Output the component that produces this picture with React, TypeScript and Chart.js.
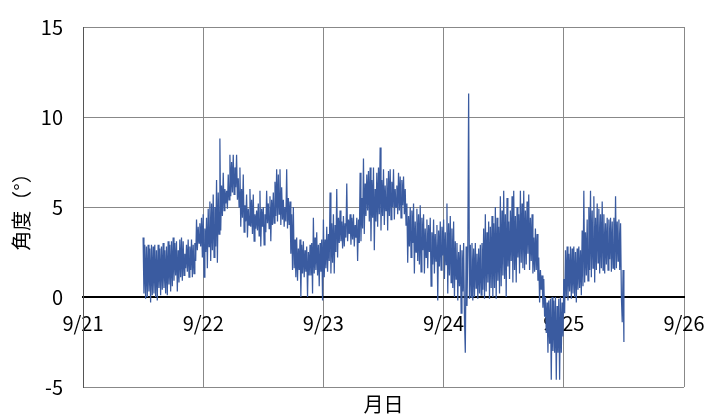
import { useEffect, useRef } from "react";
import { Chart, registerables } from "chart.js";

Chart.register(...registerables);

// Day tick labels (days counted from 9/21 00:00)
const dateLabels = ["9/21", "9/22", "9/23", "9/24", "9/25", "9/26"];
const yTickValues = [-5, 0, 5, 10, 15];

// Sampling: first sample 9/21 12:00, one sample every 10 minutes
const startDay = 0.5;
const sampleMinutes = 10;

// Angle (°), one row = 2 hours (12 samples)
const angleValues = [
  3.3, 0.2, 2.9, -0.1, 2.8, 0.0, 2.9, 0.3, 2.7, -0.3, 2.9, 0.1,
  2.8, 0.2, 2.9, 0.0, 2.6, -0.2, 2.9, 0.5, 2.7, 0.1, 2.8, 0.4,
  3.0, 0.5, 2.6, 0.2, 2.8, 0.1, 3.1, 0.7, 2.9, 0.3, 3.1, 0.6,
  3.3, 0.9, 3.0, 1.2, 3.1, 0.3, 2.6, 0.8, 3.2, 1.1, 3.3, 0.9,
  3.1, 1.2, 2.4, 1.6, 2.9, 1.4, 3.2, 1.1, 2.8, 1.5, 3.2, 1.1,
  2.9, 1.3, 3.0, 2.0, 4.3, 2.6, 3.9, 3.0, 4.1, 2.8, 4.4, 2.2,
  4.6, 1.1, 3.8, 2.5, 4.4, 1.6, 4.9, 2.8, 5.3, 2.0, 5.2, 2.6,
  5.7, 2.2, 5.0, 2.8, 6.5, 1.9, 5.8, 3.5, 8.8, 3.7, 6.2, 4.5,
  6.9, 4.8, 6.0, 5.2, 5.9, 4.9, 6.8, 5.4, 7.9, 5.6, 7.5, 5.8,
  7.9, 5.7, 7.2, 6.1, 7.9, 5.4, 6.6, 5.0, 7.2, 3.9, 6.0, 4.4,
  6.8, 3.6, 5.1, 4.2, 5.7, 3.3, 4.9, 4.0, 6.0, 3.9, 5.4, 3.5,
  5.7, 3.1, 4.6, 3.8, 4.8, 3.7, 5.2, 3.4, 5.9, 2.8, 4.9, 3.9,
  5.0, 2.9, 4.6, 3.6, 5.9, 4.1, 5.2, 3.8, 5.6, 3.1, 5.4, 4.0,
  5.8, 4.1, 6.4, 4.5, 7.1, 4.2, 6.8, 4.6, 7.1, 4.0, 6.1, 4.3,
  5.4, 3.9, 5.0, 4.2, 7.1, 3.8, 5.5, 4.0, 5.3, 2.4, 4.6, 1.5,
  5.0, 1.6, 3.2, 1.1, 3.3, 0.9, 2.7, 1.5, 3.2, 0.0, 2.9, 1.3,
  3.1, 1.1, 2.6, 1.4, 2.8, 0.0, 2.5, 1.2, 2.9, 1.2, 3.0, 0.2,
  4.4, 1.3, 3.3, 1.5, 3.6, 1.2, 2.9, 0.6, 3.0, 1.4, 3.2, -0.2,
  4.3, 1.1, 3.2, 1.6, 3.9, 1.4, 3.5, 2.0, 5.8, 1.3, 4.1, 1.9,
  4.6, 1.3, 4.0, 2.5, 6.0, 2.2, 4.4, 3.0, 4.8, 3.1, 4.2, 2.7,
  4.5, 2.8, 4.1, 3.3, 6.3, 3.1, 4.3, 3.5, 4.6, 2.9, 4.4, 3.2,
  4.6, 2.8, 4.0, 3.3, 4.4, 2.0, 4.3, 3.0, 6.9, 3.1, 5.5, 3.8,
  7.7, 3.5, 6.3, 4.5, 6.8, 4.8, 7.0, 4.2, 7.2, 3.1, 6.5, 4.4,
  7.2, 2.6, 6.0, 4.2, 6.9, 3.9, 7.2, 4.6, 8.3, 3.7, 6.5, 4.5,
  7.1, 4.0, 6.2, 4.8, 6.6, 3.7, 7.0, 4.5, 7.1, 4.3, 6.4, 5.0,
  7.1, 4.3, 6.0, 5.0, 6.2, 4.6, 6.9, 4.8, 6.7, 4.4, 6.5, 5.1,
  6.7, 4.6, 6.0, 4.0, 5.2, 1.9, 4.5, 2.8, 5.0, 2.2, 4.8, 3.0,
  5.2, 1.3, 4.2, 2.5, 4.9, 2.0, 4.6, 1.8, 5.1, 1.4, 4.4, 2.6,
  4.6, 1.3, 3.8, 2.2, 4.3, 1.6, 4.0, 2.5, 4.4, 0.6, 3.6, 1.8,
  4.3, 1.3, 3.5, 2.0, 4.0, -0.2, 3.7, 1.7, 4.2, 1.5, 3.9, 2.3,
  4.3, 1.0, 3.6, 1.8, 5.2, 0.2, 4.1, 1.2, 4.5, 0.8, 3.8, 0.5,
  4.2, 0.0, 3.1, 1.0, 3.0, -0.2, 2.5, 0.6, 2.9, -0.9, 2.6, 0.3,
  3.0, -1.2, -3.1, 2.8, -0.5, 2.6, 11.3, -0.1, 2.9, 0.0, 3.0, -0.2,
  2.7, 0.0, 3.0, 0.5, 2.4, -0.1, 2.7, 0.2, 2.9, 0.1, 3.0, 0.4,
  3.8, -0.1, 4.6, 0.3, 3.6, 0.8, 4.2, -0.1, 3.9, 0.5, 4.5, 0.0,
  4.1, 0.5, 5.0, -0.1, 4.4, 0.9, 3.9, 0.2, 5.6, 0.6, 4.8, 1.2,
  5.9, 1.0, 4.6, 0.0, 5.5, 1.7, 4.2, 1.0, 4.8, 2.0, 5.6, 0.8,
  5.9, 1.5, 4.5, 0.8, 5.0, 2.2, 4.6, 1.3, 5.9, 1.9, 5.2, 1.6,
  5.9, 1.5, 4.8, 1.8, 5.3, 2.4, 5.7, 1.5, 4.4, 2.0, 4.6, 1.3,
  3.3, 1.4, 3.8, 1.5, 3.5, 0.9, 2.2, -0.3, 1.5, 0.4, 1.2, -0.6,
  1.0, -1.1, 0.0, -2.0, -0.3, -3.1, -0.2, -2.6, -0.1, -4.6, 0.0, -3.0,
  -0.2, -3.1, 0.0, -4.6, -0.5, -3.1, -0.1, -4.6, 0.0, -3.1, -0.3, -2.2,
  1.0, -0.9, 2.6, 0.0, 2.8, -0.2, 2.4, 0.3, 2.8, -0.1, 2.7, 0.2,
  2.8, 0.0, 2.5, -0.3, 2.7, 0.4, 2.8, 0.5, 2.6, 0.1, 3.7, 0.6,
  5.9, 0.8, 3.6, 1.2, 4.3, 0.9, 5.0, 1.5, 5.9, 1.1, 4.8, 1.6,
  5.6, 0.8, 4.4, 1.5, 5.2, 1.9, 4.9, 1.3, 4.6, 1.6, 5.3, 1.5,
  4.6, 1.3, 4.1, 1.8, 4.4, 1.5, 4.3, 2.1, 4.4, 1.4, 4.2, 1.6,
  4.4, 1.5, 5.6, 1.6, 4.2, 2.0, 4.3, 1.5, 4.1, 0.0, -1.4, 1.5,
  -2.5,
];

const xTitle = "月日";
const yTitle = "角度（°）";

export default function App() {
  const canvasRef = useRef<HTMLCanvasElement>(null);

  useEffect(() => {
    if (!canvasRef.current) return;
    const font = { family: '"Noto Sans CJK JP", sans-serif', size: 20 };
    const points = angleValues.map((v, i) => ({
      x: startDay + (i * sampleMinutes) / 1440,
      y: v,
    }));

    const chart = new Chart(canvasRef.current, {
      type: "line",
      data: {
        datasets: [
          {
            data: points,
            borderColor: "#3A5BA0",
            borderWidth: 1.25,
            pointRadius: 0,
            tension: 0,
            fill: false,
          },
        ],
      },
      options: {
        animation: false,
        responsive: true,
        maintainAspectRatio: false,
        layout: { padding: { top: 27, right: 26, left: 0, bottom: 0 } },
        plugins: { legend: { display: false }, tooltip: { enabled: false } },
        scales: {
          x: {
            type: "linear",
            position: { y: 0 } as any,
            min: 0,
            max: dateLabels.length - 1,
            ticks: {
              stepSize: 1,
              autoSkip: false,
              maxRotation: 0,
              color: "#000",
              font,
              padding: 0,
              callback: (v: any) => dateLabels[Math.round(Number(v))] ?? "",
            },
            grid: { color: "#888", drawTicks: true, tickLength: 14, tickColor: "rgba(0,0,0,0)" },
            border: { color: "#000", width: 2 },
          },
          x2: {
            type: "linear",
            position: "bottom",
            min: 0,
            max: dateLabels.length - 1,
            ticks: { display: false },
            grid: { display: false, drawTicks: false },
            border: { display: false },
            title: { display: true, text: xTitle, color: "#000", font, padding: 0 },
            afterFit: (s: any) => {
              s.height = 29;
            },
          },
          y: {
            type: "linear",
            min: yTickValues[0],
            max: yTickValues[yTickValues.length - 1],
            afterBuildTicks: (s: any) => {
              s.ticks = yTickValues.map((value) => ({ value }));
            },
            ticks: { color: "#000", font, padding: 0 },
            grid: {
              color: (c: any) => (c.tick && c.tick.value === 0 ? "rgba(0,0,0,0)" : "#888"),
              drawTicks: true,
              tickLength: 20,
              tickColor: "rgba(0,0,0,0)",
            },
            border: { color: "#555", width: 1 },
            title: {
              display: true,
              text: yTitle,
              color: "#000",
              font,
              padding: { top: 9, bottom: 0 },
            },
            afterFit: (s: any) => {
              s.width = 83;
            },
          },
        },
      },
    });
    return () => chart.destroy();
  }, []);

  return (
    <div style={{ position: "absolute", left: 0, top: 0, width: 710, height: 416 }}>
      <canvas ref={canvasRef} />
    </div>
  );
}
